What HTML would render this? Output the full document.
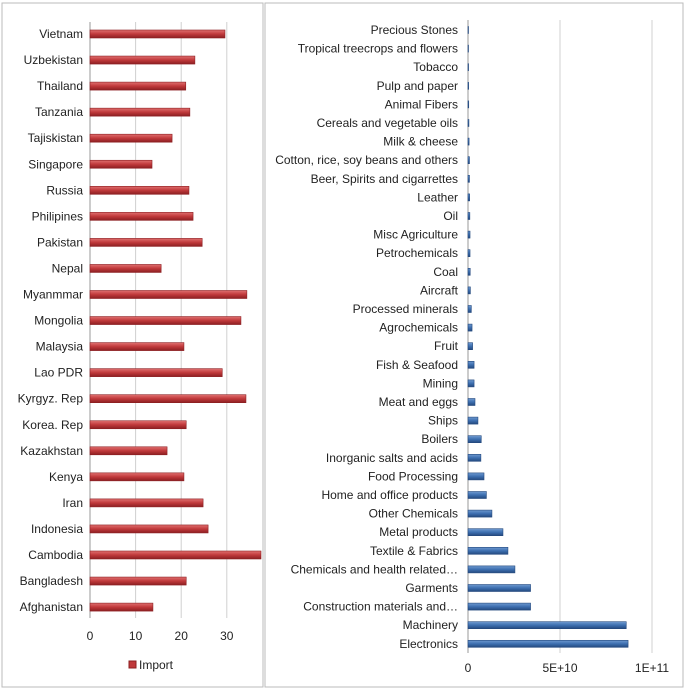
<!DOCTYPE html>
<html><head><meta charset="utf-8"><style>
body{margin:0;background:#fff;font-family:"Liberation Sans",sans-serif}
svg text{font-family:"Liberation Sans",sans-serif;font-size:12px;fill:#222}
</style></head><body>
<svg id="c" width="685" height="690">
<defs>
<linearGradient id="rg" x1="0" y1="0" x2="0" y2="1"><stop offset="0" stop-color="#e07070"/><stop offset="0.5" stop-color="#c0393b"/><stop offset="1" stop-color="#8c1f22"/></linearGradient>
<linearGradient id="bg" x1="0" y1="0" x2="0" y2="1"><stop offset="0" stop-color="#6f9ad0"/><stop offset="0.5" stop-color="#3d6fb0"/><stop offset="1" stop-color="#24497e"/></linearGradient>
</defs>
<rect x="2" y="3" width="261" height="684" fill="none" stroke="#bbb"/>
<rect x="265" y="3" width="418" height="684" fill="none" stroke="#bbb"/>
<g id="L"></g><g id="R"></g>
<rect x="129" y="661" width="7" height="7" fill="#c0393b" stroke="#8c1f22"/>
<text x="139" y="669">Import</text>
</svg>
<script>
const countries=["Vietnam","Uzbekistan","Thailand","Tanzania","Tajiskistan","Singapore","Russia","Philipines","Pakistan","Nepal","Myanmmar","Mongolia","Malaysia","Lao PDR","Kyrgyz. Rep","Korea. Rep","Kazakhstan","Kenya","Iran","Indonesia","Cambodia","Bangladesh","Afghanistan"];
const importValues=[29.6,23,21,21.9,18,13.6,21.7,22.6,24.6,15.6,34.4,33.1,20.6,29,34.2,21.1,16.9,20.6,24.8,25.9,37.5,21.1,13.8];
const leftTicks=[0,10,20,30];
const sectors=["Precious Stones","Tropical treecrops and flowers","Tobacco","Pulp and paper","Animal Fibers","Cereals and vegetable oils","Milk & cheese","Cotton, rice, soy beans and others","Beer, Spirits and cigarrettes","Leather","Oil","Misc Agriculture","Petrochemicals","Coal","Aircraft","Processed minerals","Agrochemicals","Fruit","Fish & Seafood","Mining","Meat and eggs","Ships","Boilers","Inorganic salts and acids","Food Processing","Home and office products","Other Chemicals","Metal products","Textile & Fabrics","Chemicals and health related…","Garments","Construction materials and…","Machinery","Electronics"];
const sectorValues=[0.02e9,0.05e9,0.3e9,0.35e9,0.4e9,0.5e9,0.6e9,0.8e9,0.8e9,0.9e9,1e9,1.1e9,1.1e9,1.2e9,1.3e9,1.8e9,2.2e9,2.5e9,3.3e9,3.3e9,3.8e9,5.4e9,7.2e9,7e9,8.7e9,10e9,13e9,19e9,21.7e9,25.5e9,34e9,34e9,86e9,87e9];
const rightTicks=[0,5e10,1e11];
const rightTickLabels=["0","5E+10","1E+11"];
const NS="http://www.w3.org/2000/svg";
function mk(p,t,a,txt){const e=document.createElementNS(NS,t);for(const k in a)e.setAttribute(k,a[k]);if(txt!=null)e.textContent=txt;p.appendChild(e);return e;}
const L=document.getElementById('L'),R=document.getElementById('R');
const lx=v=>90+v*4.56, ly=i=>34+i*26.05;
leftTicks.forEach(t=>{
 const g=mk(L,'line',{x1:lx(t),x2:lx(t),y1:22,y2:618,stroke:t==0?'#999':'#d0d0d0'});
 
 
 const tl=mk(L,'text',{x:lx(t),y:640,'text-anchor':'middle'},String(t));
 
 
});
countries.forEach((c,i)=>{
 const t=mk(L,'text',{x:83,y:ly(i)+4,'text-anchor':'end'},c);
 
 
 const b=mk(L,'rect',{x:90,y:ly(i)-4,width:Math.min(lx(importValues[i]),262)-90,height:8,fill:'url(#rg)',stroke:'#8c1f22','stroke-width':0.6});
 
 
});
const rx=v=>468+v*92/5e10, ry=i=>30+i*18.6;
rightTicks.forEach((t,k)=>{
 const g=mk(R,'line',{x1:rx(t),x2:rx(t),y1:20,y2:653,stroke:t==0?'#999':'#d0d0d0'});
 
 
 const tl=mk(R,'text',{x:rx(t),y:672,'text-anchor':'middle'},rightTickLabels[k]);
 
 
});
sectors.forEach((s,i)=>{
 const t=mk(R,'text',{x:458,y:ry(i)+4,'text-anchor':'end'},s);
 
 
 const b=mk(R,'rect',{x:468,y:ry(i)-3.5,width:Math.max(rx(sectorValues[i])-468,0.5),height:7,fill:'url(#bg)',stroke:'#24497e','stroke-width':0.6});
 
 
});
</script>
</body></html>
